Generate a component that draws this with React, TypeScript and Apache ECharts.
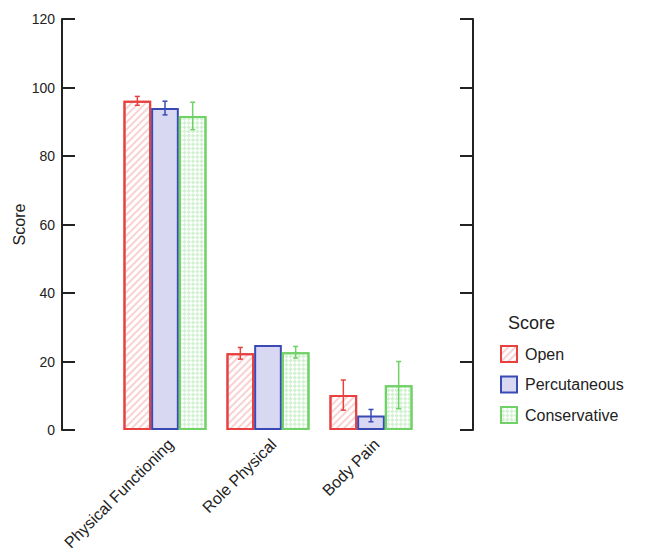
import React, { useEffect, useRef } from "react";
import * as echarts from "echarts";

const categories = ["Physical Functioning", "Role Physical", "Body Pain"];
const seriesNames = ["Open", "Percutaneous", "Conservative"];
const openValues = [96.1, 22.4, 10.2];
const percValues = [94.0, 24.8, 4.2];
const consValues = [91.7, 22.7, 13.1];
const openErr = [1.3, 1.7, 4.4];
const percErr = [2.0, 0, 1.8];
const consErr = [4.0, 1.7, 6.9];
const yTicks = { min: 0, max: 120, interval: 20 };

const borderColors = ["#e8403f", "#3a4ab4", "#6fd166"];
const fillColors = ["#ffffff", "#d8d8f3", "#ffffff"];
const CAT_GAP = 0.194;

const decals: any[] = [
  {
    symbol: "rect",
    dashArrayX: [1, 0],
    dashArrayY: [1.5, 3],
    rotation: -Math.PI / 4,
    color: "rgba(240,140,140,0.4)",
    backgroundColor: "#ffffff",
  },
  null,
  {
    symbol: "rect",
    dashArrayX: [[2.5, 2.5], [0, 2.5, 2.5, 0]],
    dashArrayY: [2.5, 0],
    rotation: Math.PI / 4,
    color: "rgba(140,220,140,0.4)",
    backgroundColor: "#ffffff",
  },
];

export default function App() {
  const ref = useRef<HTMLDivElement>(null);
  useEffect(() => {
    if (!ref.current) return;
    const chart = echarts.init(ref.current, null, { renderer: "svg" });
    const values = [openValues, percValues, consValues];
    const errs = [openErr, percErr, consErr];

    const barSeries = seriesNames.map((name, k) => ({
      name,
      type: "bar",
      data: values[k],
      barGap: "0%",
      barCategoryGap: CAT_GAP * 100 + "%",
      itemStyle: {
        color: fillColors[k],
        borderColor: borderColors[k],
        borderWidth: 2,
        ...(decals[k] ? { decal: decals[k] } : {}),
      },
      z: 2,
    }));

    const errSeries = seriesNames.map((name, k) => ({
      name: name + " error",
      type: "custom",
      z: 5,
      data: values[k].map((v, i) => [i, v - errs[k][i], v + errs[k][i], errs[k][i]]),
      renderItem: (params: any, api: any) => {
        const e = api.value(3);
        if (!e) return null;
        const cat = api.value(0);
        const lo = api.coord([cat, api.value(1)]);
        const hi = api.coord([cat, api.value(2)]);
        const bandW = api.size([1, 0])[0];
        const barW = (bandW * (1 - CAT_GAP)) / 3;
        const x = lo[0] + (k - 1) * barW;
        const cap = 2.5;
        const style = { stroke: borderColors[k], lineWidth: 1.5 };
        return {
          type: "group",
          children: [
            { type: "line", shape: { x1: x, y1: lo[1], x2: x, y2: hi[1] }, style },
            { type: "line", shape: { x1: x - cap, y1: lo[1], x2: x + cap, y2: lo[1] }, style },
            { type: "line", shape: { x1: x - cap, y1: hi[1], x2: x + cap, y2: hi[1] }, style },
          ],
        };
      },
    }));

    const axisCommon = {
      type: "value",
      min: yTicks.min,
      max: yTicks.max,
      interval: yTicks.interval,
      splitLine: { show: false },
      axisLine: { show: true, lineStyle: { color: "#222", width: 2 } },
      axisTick: { show: true, inside: true, length: 13, lineStyle: { color: "#222", width: 2 } },
    };

    chart.setOption({
      animation: false,
      textStyle: { fontFamily: "Liberation Sans, Arial, sans-serif" },
      title: {
        text: "Score",
        left: 508,
        top: 314,
        padding: 0,
        textStyle: { fontSize: 18, fontWeight: "normal", color: "#222" },
      },
      legend: {
        data: seriesNames,
        orient: "vertical",
        left: 500,
        top: 345,
        padding: 0,
        icon: "rect",
        itemWidth: 16,
        itemHeight: 16,
        itemGap: 12.5,
        textStyle: { fontSize: 16, color: "#222", padding: [0, 0, 0, 3] },
        selectedMode: false,
      },
      grid: { left: 113.5, right: 223.5, top: 19, bottom: 124 },
      xAxis: {
        type: "category",
        data: categories,
        axisLine: { show: false },
        axisTick: { show: false },
        axisLabel: {
          rotate: 45,
          fontSize: 16,
          color: "#222",
          margin: 6,
          interval: 0,
          verticalAlign: "top",
        },
      },
      yAxis: [
        {
          ...axisCommon,
          position: "left",
          offset: 51.5,
          name: "Score",
          nameLocation: "middle",
          nameGap: 34,
          nameTextStyle: { fontSize: 16, color: "#222" },
          axisLabel: { fontSize: 14, color: "#222", margin: 7 },
        },
        {
          ...axisCommon,
          position: "right",
          offset: 50.5,
          axisLabel: { show: false },
        },
      ],
      series: [...barSeries, ...errSeries],
    });
    return () => chart.dispose();
  }, []);
  return (
    <div
      ref={ref}
      style={{ position: "absolute", left: 0, top: 0, width: 646, height: 554 }}
    />
  );
}
